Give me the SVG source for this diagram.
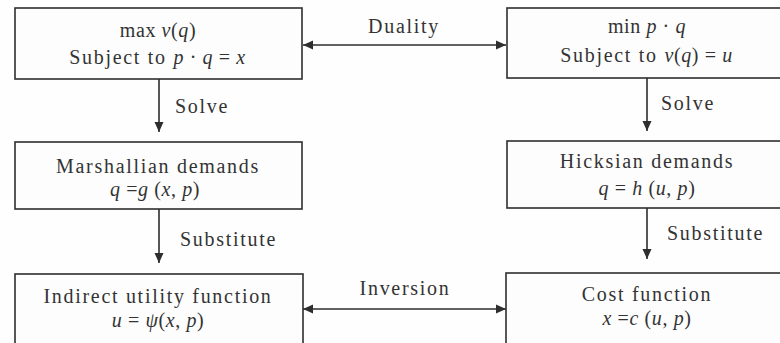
<svg xmlns="http://www.w3.org/2000/svg" width="780" height="343" viewBox="0 0 780 343">
<style>
.box{fill:#fdfdfd;stroke:#2e2e2e;stroke-width:1.6}
.t{font-family:"Liberation Serif","Times New Roman",serif;font-size:20px;letter-spacing:1.7px;fill:#333;text-anchor:middle}
.lbl{font-family:"Liberation Serif","Times New Roman",serif;font-size:20px;letter-spacing:1.7px;fill:#333}
.eq{letter-spacing:0.6px}
.m{font-style:italic}
.c{stroke:#2e2e2e;stroke-width:1.6;fill:none}
</style>
<defs>
<marker id="ah" viewBox="0 0 10 10" refX="10" refY="5" markerWidth="10" markerHeight="10" markerUnits="userSpaceOnUse" orient="auto-start-reverse">
<path d="M0,0.5 L10,5 L0,9.5 Z" fill="#2e2e2e"/>
</marker>
</defs>
<rect width="780" height="343" fill="#fefefe"/>
<g id="connectors">
<line class="c" x1="159" y1="79" x2="159" y2="132" marker-end="url(#ah)"/>
<line class="c" x1="647" y1="78" x2="647" y2="131" marker-end="url(#ah)"/>
<line class="c" x1="159" y1="209" x2="159" y2="263" marker-end="url(#ah)"/>
<line class="c" x1="647" y1="208" x2="647" y2="259" marker-end="url(#ah)"/>
<line class="c" x1="303" y1="45" x2="506" y2="45" marker-start="url(#ah)" marker-end="url(#ah)"/>
<line class="c" x1="303" y1="309" x2="506" y2="309" marker-start="url(#ah)" marker-end="url(#ah)"/>
<text class="lbl" x="175" y="113">Solve</text>
<text class="lbl" x="661" y="110">Solve</text>
<text class="lbl" x="180" y="246">Substitute</text>
<text class="lbl" x="667" y="240">Substitute</text>
<text class="t" x="404" y="33">Duality</text>
<text class="t" x="405" y="295">Inversion</text>
</g>
<g id="primal">
<rect class="box" x="15" y="8" width="287" height="71"/>
<text class="t eq" x="158" y="37">max <tspan class="m">v</tspan>(<tspan class="m">q</tspan>)</text>
<text class="t" x="158" y="64">Subject to <tspan class="m eq">p</tspan><tspan class="eq"> · </tspan><tspan class="m eq">q</tspan><tspan class="eq"> = </tspan><tspan class="m">x</tspan></text>
</g>
<g id="dual">
<rect class="box" x="507" y="8" width="280" height="70"/>
<text class="t eq" x="647" y="33">min <tspan class="m">p</tspan> · <tspan class="m">q</tspan></text>
<text class="t" x="647" y="62">Subject to <tspan class="m eq">v</tspan><tspan class="eq">(</tspan><tspan class="m eq">q</tspan><tspan class="eq">) = </tspan><tspan class="m">u</tspan></text>
</g>
<g id="marshallian">
<rect class="box" x="15" y="142" width="287" height="67"/>
<text class="t" x="158" y="173">Marshallian demands</text>
<text class="t eq" x="155" y="196"><tspan class="m">q</tspan> =<tspan class="m">g</tspan> (<tspan class="m">x</tspan>, <tspan class="m">p</tspan>)</text>
</g>
<g id="hicksian">
<rect class="box" x="507" y="141" width="280" height="67"/>
<text class="t" x="647" y="168">Hicksian demands</text>
<text class="t eq" x="647" y="195"><tspan class="m">q</tspan> = <tspan class="m">h</tspan> (<tspan class="m">u</tspan>, <tspan class="m">p</tspan>)</text>
</g>
<g id="indirect">
<rect class="box" x="15" y="274" width="288" height="70"/>
<text class="t" x="158" y="303">Indirect utility function</text>
<text class="t eq" x="158" y="327"><tspan class="m">u</tspan> = <tspan class="m">ψ</tspan>(<tspan class="m">x</tspan>, <tspan class="m">p</tspan>)</text>
</g>
<g id="cost">
<rect class="box" x="506" y="273" width="281" height="71"/>
<text class="t" x="647" y="301">Cost function</text>
<text class="t eq" x="647" y="325"><tspan class="m">x</tspan> =<tspan class="m">c</tspan> (<tspan class="m">u</tspan>, <tspan class="m">p</tspan>)</text>
</g>
</svg>
